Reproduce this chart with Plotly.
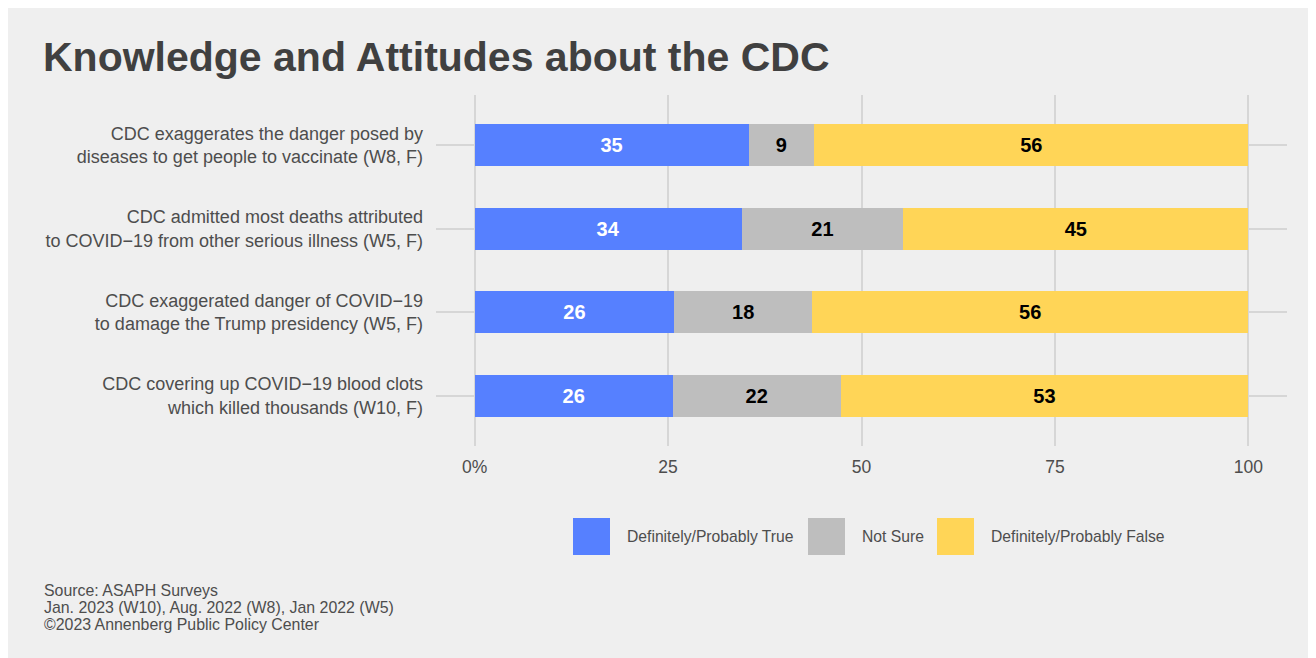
import plotly.graph_objects as go

# ---- data ----
categories = [
    "CDC exaggerates the danger posed by<br>diseases to get people to vaccinate (W8, F)",
    "CDC admitted most deaths attributed<br>to COVID\u221219 from other serious illness (W5, F)",
    "CDC exaggerated danger of COVID\u221219<br>to damage the Trump presidency (W5, F)",
    "CDC covering up COVID\u221219 blood clots<br>which killed thousands (W10, F)",
]
series_names = ["Definitely/Probably True", "Not Sure", "Definitely/Probably False"]
true_vals = [35.4, 34.5, 25.8, 25.6]
notsure_vals = [8.5, 20.9, 17.8, 21.7]
false_vals = [56.1, 44.6, 56.4, 52.7]
true_labels = ["35", "34", "26", "26"]
notsure_labels = ["9", "21", "18", "22"]
false_labels = ["56", "45", "56", "53"]
x_tickvals = [0, 25, 50, 75, 100]
x_ticktext = ["0%", "25", "50", "75", "100"]

title_text = "Knowledge and Attitudes about the CDC"
source_lines = [
    "Source: ASAPH Surveys",
    "Jan. 2023 (W10), Aug. 2022 (W8), Jan 2022 (W5)",
    "\u00a92023 Annenberg Public Policy Center",
]

# ---- style ----
FONT = "Liberation Sans, Arial, Helvetica, sans-serif"
BG = "#efefef"
GRID = "#d6d6d6"
TXT = "#4d4d4d"
colors = ["#5680ff", "#bebebe", "#ffd557"]
label_colors = ["white", "black", "black"]

OFF = 8  # page body margin
W, H = 1316, 658
# plot area in page pixels
L, R, T, B = 436, 1287, 95, 446
Lf, Rf, Tf, Bf = L - OFF, R - OFF, T - OFF, B - OFF


def px_x(px):
    return (px - L) / (R - L)


def px_y(py):
    return (B - py) / (B - T)


fig = go.Figure()
for name, vals, labs, col, lcol in zip(
    series_names,
    [true_vals, notsure_vals, false_vals],
    [true_labels, notsure_labels, false_labels],
    colors,
    label_colors,
):
    fig.add_trace(
        go.Bar(
            y=categories,
            x=vals,
            name=name,
            orientation="h",
            marker=dict(color=col, line=dict(width=0)),
            text=labs,
            textposition="inside",
            insidetextanchor="middle",
            textangle=0,
            constraintext="none",
            textfont=dict(family=FONT, size=20, color=lcol, weight="bold"),
            showlegend=False,
            hoverinfo="x+name",
        )
    )

shapes = []
annotations = []

# custom legend
legend_boxes = [(573, 625), (808, 860), (937, 989)]
for (bx, tx), name, col in zip(legend_boxes, series_names, colors):
    shapes.append(
        dict(
            type="rect", xref="paper", yref="paper",
            x0=px_x(bx), x1=px_x(bx + 37), y0=px_y(555), y1=px_y(518),
            fillcolor=col, line=dict(width=0), layer="above",
        )
    )
    annotations.append(
        dict(
            text=name, xref="paper", yref="paper", x=px_x(tx), y=px_y(536.5),
            xanchor="left", yanchor="middle", showarrow=False,
            font=dict(family=FONT, size=15.7, color=TXT),
        )
    )

# source lines
for i, line in enumerate(source_lines):
    annotations.append(
        dict(
            text=line, xref="paper", yref="paper", x=px_x(42), y=px_y(590 + 17 * i),
            xanchor="left", yanchor="middle", showarrow=False,
            font=dict(family=FONT, size=15.9, color=TXT),
        )
    )

fig.update_layout(
    width=W,
    height=H,
    barmode="stack",
    bargap=0.5,
    paper_bgcolor=BG,
    plot_bgcolor=BG,
    margin=dict(l=Lf, r=W - Rf, t=Tf, b=H - Bf, pad=0),
    title=dict(
        text=title_text,
        xref="container", yref="container",
        x=(43 - OFF) / W, xanchor="left",
        y=1 - (57 - OFF) / H, yanchor="middle",
        font=dict(family=FONT, size=41, color="#404040", weight="bold"),
    ),
    xaxis=dict(
        range=[-5, 105],
        tickvals=x_tickvals,
        ticktext=x_ticktext,
        showgrid=True,
        gridcolor=GRID,
        gridwidth=2,
        zeroline=False,
        showline=False,
        ticks="",
        ticklabelstandoff=8,
        tickfont=dict(family=FONT, size=17.5, color=TXT),
        fixedrange=True,
    ),
    yaxis=dict(
        categoryorder="array",
        categoryarray=categories,
        range=[3.6, -0.6],
        showgrid=True,
        gridcolor=GRID,
        gridwidth=2,
        zeroline=False,
        showline=False,
        ticks="",
        ticklabelstandoff=12,
        tickfont=dict(family=FONT, size=18, color=TXT),
        fixedrange=True,
    ),
    shapes=shapes,
    annotations=annotations,
    showlegend=False,
)

fig.write_html("out.html")
